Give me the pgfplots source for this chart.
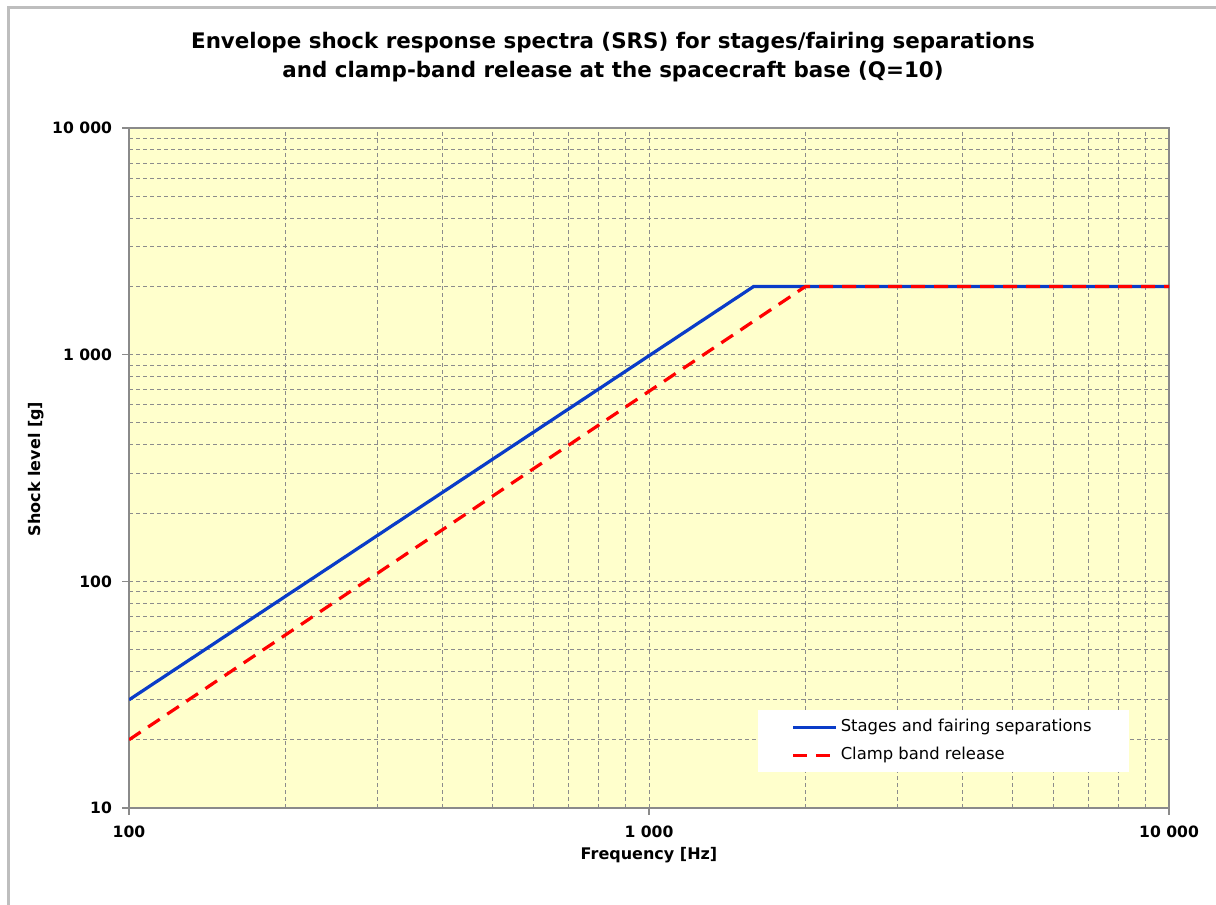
\documentclass[border=0pt]{standalone}
\usepackage{fontspec}
\setmainfont{DejaVu Sans}
\usepackage{pgfplots}
\pgfplotsset{compat=1.18}
\definecolor{bgy}{HTML}{FFFFCC}
\definecolor{sblue}{HTML}{0A3CC8}
\definecolor{sred}{HTML}{FF0000}
\definecolor{gridg}{HTML}{8C8C8C}
\definecolor{axg}{HTML}{8A8A8A}
\definecolor{frameg}{HTML}{BEBEBE}
\begin{document}
\begin{tikzpicture}[x=0.5pt,y=0.5pt]
\path[use as bounding box] (0,0) rectangle (1216,905);
\draw[frameg, line width=1.5pt] (8,0) -- (8,897) -- (1216,897);
\node[font=\bfseries\fontsize{10.7}{14.5}\selectfont, align=center] at (613,847.5)
  {Envelope shock response spectra (SRS) for stages/fairing separations\\and clamp-band release at the spacecraft base (Q=10)};
\node[font=\bfseries\fontsize{8}{9}\selectfont, rotate=90] at (36.5,436) {Shock level [g]};
\node[font=\bfseries\fontsize{8}{9}\selectfont] at (649,50) {Frequency [Hz]};
\begin{axis}[
  at={(64.5pt,48.5pt)}, anchor=south west,
  width=520pt, height=340pt, scale only axis,
  xmode=log, ymode=log,
  xmin=100, xmax=10000, ymin=10, ymax=10000,
  axis background/.style={fill=bgy},
  axis line style={axg, line width=1pt},
  grid=both,
  major grid style={gridg, line width=0.5pt, dash pattern=on 2pt off 1.5pt},
  minor grid style={gridg, line width=0.5pt, dash pattern=on 2pt off 1.5pt},
  tick align=outside, tick pos=left,
  major tick length=3.5pt, minor tick length=0pt,
  tick style={axg, line width=0.8pt},
  xtick={100,1000,10000},
  xticklabels={100,1 000,10 000},
  ytick={10,100,1000,10000},
  yticklabels={10,100,1 000,10 000},
  ticklabel style={font=\bfseries\fontsize{7.8}{9}\selectfont},
  xticklabel style={yshift=-2pt},
  yticklabel style={xshift=-1.5pt},
  legend style={at={(0.604,0.144)}, anchor=north west, draw=none, fill=white,
    font=\fontsize{8.2}{10}\selectfont, inner xsep=17pt, inner ysep=2.5pt, row sep=2.3pt,
    nodes={inner xsep=1.5pt}},
  legend cell align=left,
  legend image code/.code={\draw[#1] (0pt,0pt) -- (21.5pt,0pt);},
]
\addplot[sblue, line width=1.6pt] coordinates {(100,30) (1590,2000) (10000,2000)};
\addlegendentry{Stages and fairing separations}
\addplot[sred, line width=1.6pt, dash pattern=on 7pt off 4.5pt] coordinates {(100,20) (2000,2000) (10000,2000)};
\addlegendentry{Clamp band release}
\end{axis}
\end{tikzpicture}
\end{document}
